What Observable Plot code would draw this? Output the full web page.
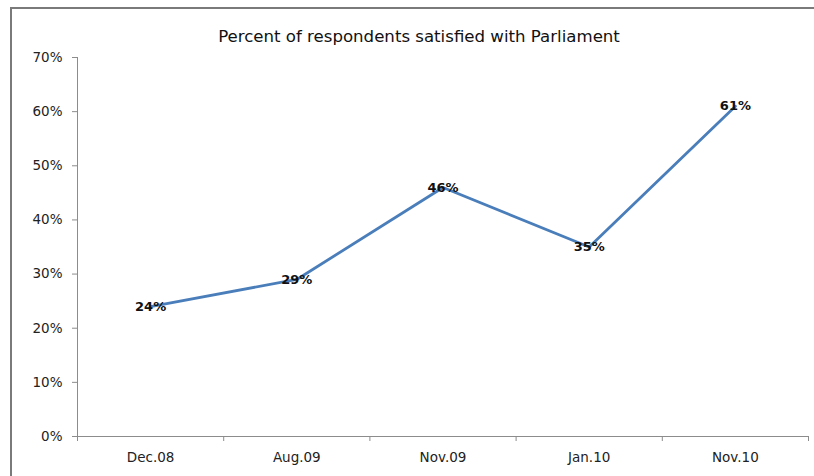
<!DOCTYPE html>
<html>
<head>
<meta charset="utf-8">
<script src="https://cdn.jsdelivr.net/npm/d3@7"></script>
<script src="https://cdn.jsdelivr.net/npm/@observablehq/plot@0.6"></script>
<style>
  html, body { margin: 0; padding: 0; background: #fff; }
  #wrap { position: relative; width: 814px; height: 476px; overflow: hidden; }
  #border { position: absolute; left: 10px; top: 7px; width: 900px; height: 600px;
            border-top: 2px solid #7a7a7a; border-left: 2px solid #7a7a7a; pointer-events: none; }
</style>
</head>
<body>
<div id="wrap"><div id="border"></div></div>
<script>
const title = "Percent of respondents satisfied with Parliament";
const categories = ["Dec.08", "Aug.09", "Nov.09", "Jan.10", "Nov.10"];
const values = [0.24, 0.29, 0.46, 0.35, 0.61];
const yTicks = [0, 0.1, 0.2, 0.3, 0.4, 0.5, 0.6, 0.7];

const data = categories.map((c, i) => ({cat: c, i: i + 0.5, v: values[i]}));
const pct = d3.format(".0%");
const FONT = "'DejaVu Sans', Verdana, sans-serif";

const chart = Plot.plot({
  width: 814,
  height: 476,
  marginLeft: 77,
  marginRight: 6,
  marginTop: 57,
  marginBottom: 40,
  style: {fontFamily: FONT, background: "transparent", overflow: "visible"},
  x: {type: "linear", domain: [0, categories.length]},
  y: {domain: [0, 0.7]},
  marks: [
    Plot.ruleY([0], {stroke: "#8c8c8c", strokeWidth: 1}),
    Plot.ruleX([0], {stroke: "#8c8c8c", strokeWidth: 1}),
    Plot.axisY({ticks: yTicks, tickFormat: pct, tickSize: 5, tickPadding: 10,
      stroke: "#8c8c8c", fill: "#222", fontSize: 13.5, label: null}),
    Plot.axisX({ticks: d3.range(0, categories.length + 1), tickFormat: () => "", tickSize: 5,
      stroke: "#8c8c8c", label: null}),
    Plot.axisX({ticks: data.map(d => d.i), tickFormat: t => categories[Math.round(t - 0.5)],
      tickSize: 0, tickPadding: 16, fill: "#222", fontSize: 13.5, label: null}),
    Plot.line(data, {x: "i", y: "v", stroke: "#4a7ebb", strokeWidth: 2.8}),
    Plot.text(data, {x: "i", y: "v", text: d => pct(d.v), fontWeight: "bold", fontSize: 13, fill: "#111"}),
    Plot.text([title], {frameAnchor: "top", dy: -27, dx: -24, text: d => d, fontSize: 16.6, fill: "#111"})
  ]
});
document.getElementById("wrap").prepend(chart);
</script>
</body>
</html>
